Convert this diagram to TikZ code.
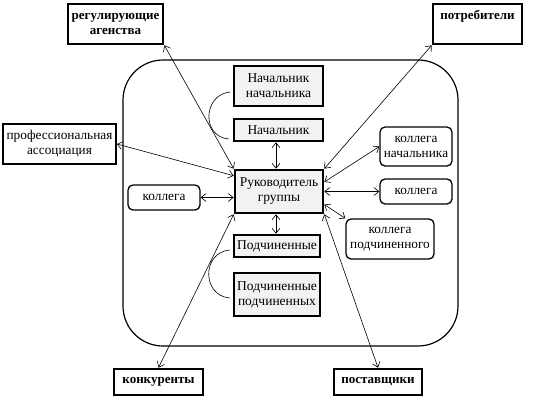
\documentclass[tikz,border=0pt]{standalone}
\usepackage{fontspec}
\setmainfont{Liberation Serif}
\usetikzlibrary{arrows.meta}
\begin{document}
\begin{tikzpicture}[x=1pt,y=-1pt,
  outerbox/.style={draw,line width=2.6pt,fill=white,inner sep=0pt,align=center,font=\fontsize{13}{14.5}\selectfont\bfseries},
  graybox/.style={draw,line width=2.6pt,fill=black!5,inner sep=0pt,align=center,font=\fontsize{13.5}{15}\selectfont},
  thingray/.style={graybox,line width=1.3pt},
  roundbox/.style={draw,line width=1.3pt,rounded corners=5pt,fill=white,inner sep=0pt,align=center,font=\fontsize{13.3}{15}\selectfont},
  link/.style={line width=0.6pt,{Straight Barb[length=5pt,width=8pt]}-{Straight Barb[length=5pt,width=8pt]}},
  loop/.style={line width=0.6pt}]
\useasboundingbox (0,0) rectangle (533,400);
\draw[line width=1.2pt,rounded corners=40pt] (123,60) rectangle (458,346);
% outer nodes
\node[outerbox,minimum width=95pt,minimum height=40pt] (reg) at (115.5,24) {регулирующие\\агенства};
\node[outerbox,minimum width=89pt,minimum height=40pt] (potr) at (477.5,24) {};
\node[font=\fontsize{13}{14.5}\selectfont\bfseries,inner sep=0pt] (potrt) at (477.5,16) {потребители};
\node[outerbox,font=\fontsize{13.3}{15}\selectfont,line width=2pt,minimum width=113pt,minimum height=40pt] (prof) at (59.5,144) {профессиональная\\ассоциация};
\node[outerbox,minimum width=89pt,minimum height=26pt] (konk) at (158.5,382) {конкуренты};
\node[outerbox,minimum width=88pt,minimum height=26pt] (post) at (378,382) {поставщики};
% inner column
\node[thingray,minimum width=89pt,minimum height=40pt] (nn) at (278.5,86) {Начальник\\начальника};
\node[graybox,minimum width=89pt,minimum height=22pt] (nach) at (278.5,130) {Начальник};
\node[graybox,minimum width=88pt,minimum height=43pt] (ruk) at (279,191.5) {Руководитель\\группы};
\node[graybox,minimum width=86pt,minimum height=22pt] (pod) at (277,246) {Подчиненные};
\node[graybox,minimum width=86pt,minimum height=43pt] (podpod) at (277,294.5) {Подчиненные\\подчиненных};
% colleagues
\node[roundbox,minimum width=72pt,minimum height=25pt] (kol) at (164,197.5) {коллега};
\node[roundbox,minimum width=72pt,minimum height=39pt] (kn) at (416,146.5) {коллега\\начальника};
\node[roundbox,minimum width=72pt,minimum height=25pt] (kr) at (416,191.5) {коллега};
\node[roundbox,minimum width=88pt,minimum height=40pt] (kp) at (390,239) {коллега\\подчиненного};
% connectors
\draw[link] (reg.south east) -- (ruk.north west);
\draw[link] (potr.south west) -- (ruk.north east);
\draw[link] (prof.east) -- ([yshift=-7pt]ruk.north west);
\draw[link] ([xshift=-2.5pt]nach.south) -- ([xshift=-3pt]ruk.north);
\draw[link] (kol.east) -- (kol.east -| ruk.west);
\draw[link] (kn.west) -- ([yshift=9.5pt]ruk.east);
\draw[link] (kr.west) -- (kr.west -| ruk.east);
\draw[link] ([yshift=-13pt]ruk.east) -- (kp.north west);
\draw[link] ([xshift=-3pt]ruk.south) -- ([xshift=-1pt]pod.north);
\draw[link] (konk.north) -- (ruk.south west);
\draw[link] (post.north) -- (ruk.south east);
% loops
\draw[loop] ([xshift=-3pt,yshift=-6pt]nn.west) to[out=185,in=175,looseness=1.5] ([xshift=-4pt,yshift=-9pt]nach.west);
\draw[loop] ([xshift=-3pt,yshift=-4pt]pod.west) to[out=185,in=175,looseness=1.5] ([xshift=-3pt,yshift=-3.5pt]podpod.west);
\end{tikzpicture}
\end{document}
